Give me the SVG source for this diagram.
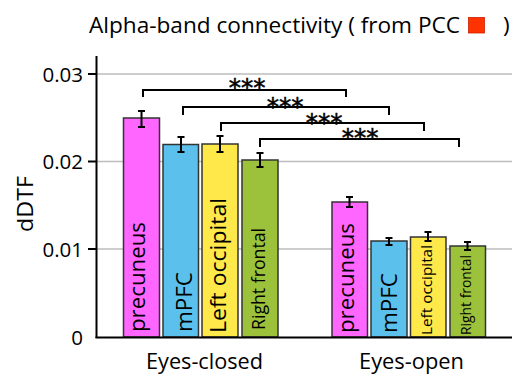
<svg xmlns="http://www.w3.org/2000/svg" width="532" height="374" viewBox="0 0 532 374">
<style>
text{font-family:"Open Sans","Liberation Sans",sans-serif;fill:#000}
.grid{stroke:#bdbdbd;stroke-width:1.5}
.axis{stroke:#000;stroke-width:2;fill:none}
.bar{stroke:#333;stroke-width:1.5}
.err{stroke:#000;stroke-width:2;fill:none}
.br{stroke:#000;stroke-width:2;fill:none}
.star{font-family:"DejaVu Sans",sans-serif;font-size:24.5px;text-anchor:middle;stroke:#000;stroke-width:0.5}
.tick{font-size:20.5px;text-anchor:end}
.lab{font-size:22px}
</style>
<rect width="532" height="374" fill="#fff"/>
<g id="title">
<text x="89" y="33" font-size="22.5" textLength="371" lengthAdjust="spacingAndGlyphs">Alpha-band connectivity ( from PCC</text>
<rect x="468.5" y="17.5" width="16" height="15.5" fill="#ff3300" stroke="#d02000" stroke-width="0.8"/>
<text x="503" y="33" font-size="22.5">)</text>
</g>
<g id="grid">
<line class="grid" x1="97" y1="74" x2="512" y2="74"/>
<line class="grid" x1="97" y1="161.5" x2="512" y2="161.5"/>
<line class="grid" x1="97" y1="249" x2="512" y2="249"/>
</g>
<g id="bars-closed">
<rect class="bar" x="123.5" y="118" width="36" height="219" fill="#ff66ff"/>
<rect class="bar" x="163" y="144.5" width="35.5" height="192.5" fill="#5bc0eb"/>
<rect class="bar" x="202" y="144" width="36" height="193" fill="#ffe84a"/>
<rect class="bar" x="242" y="160" width="36" height="177" fill="#9cc23c"/>
</g>
<g id="bars-open">
<rect class="bar" x="332" y="202" width="35.5" height="135" fill="#ff66ff"/>
<rect class="bar" x="371" y="241" width="36" height="96" fill="#5bc0eb"/>
<rect class="bar" x="410.5" y="237" width="35.5" height="100" fill="#ffe84a"/>
<rect class="bar" x="450" y="246" width="35.5" height="91" fill="#9cc23c"/>
</g>
<g id="axes">
<line class="axis" x1="96.5" y1="56" x2="96.5" y2="338"/>
<line class="axis" x1="95.5" y1="337.5" x2="512" y2="337.5"/>
<line class="axis" x1="88" y1="74" x2="97" y2="74"/>
<line class="axis" x1="88" y1="161.5" x2="97" y2="161.5"/>
<line class="axis" x1="88" y1="249" x2="97" y2="249"/>
<text class="tick" x="83" y="81.5">0.03</text>
<text class="tick" x="83" y="169">0.02</text>
<text class="tick" x="83" y="256.5">0.01</text>
<text class="tick" x="83" y="345">0</text>
<text x="33" y="232" font-size="21.5" transform="rotate(-90 33 232)" textLength="56" lengthAdjust="spacingAndGlyphs">dDTF</text>
</g>
<g id="errorbars">
<path class="err" d="M141.5,111V127M138,111H145M138,127H145"/>
<path class="err" d="M181,137V152M177.5,137H184.5M177.5,152H184.5"/>
<path class="err" d="M220,136V152M216.5,136H223.5M216.5,152H223.5"/>
<path class="err" d="M260,153V167M256.5,153H263.5M256.5,167H263.5"/>
<path class="err" d="M349.5,197V207M346,197H353M346,207H353"/>
<path class="err" d="M389,238V245M385.5,238H392.5M385.5,245H392.5"/>
<path class="err" d="M428,232V241M424.5,232H431.5M424.5,241H431.5"/>
<path class="err" d="M467.5,242V250M464,242H471M464,250H471"/>
</g>
<g id="connectors">
<path class="br" d="M143,97V90H346V97"/>
<path class="br" d="M183,115V107H389V115"/>
<path class="br" d="M221,131V123H424V131"/>
<path class="br" d="M260,147V139H459V147"/>
<text class="star" x="247" y="96">***</text>
<text class="star" x="285" y="114.5">***</text>
<text class="star" x="324" y="131">***</text>
<text class="star" x="360" y="146">***</text>
</g>
<g id="labels-closed">
<text class="lab" x="145" y="332" transform="rotate(-90 145 332)" textLength="110" lengthAdjust="spacingAndGlyphs">precuneus</text>
<text class="lab" x="192" y="332" transform="rotate(-90 192 332)" textLength="60" lengthAdjust="spacingAndGlyphs">mPFC</text>
<text class="lab" x="226" y="333" transform="rotate(-90 226 333)" textLength="135" lengthAdjust="spacingAndGlyphs">Left occipital</text>
<text x="264.5" y="330" font-size="17.5" transform="rotate(-90 264.5 330)" textLength="102" lengthAdjust="spacingAndGlyphs">Right frontal</text>
</g>
<g id="labels-open">
<text class="lab" x="354" y="333" transform="rotate(-90 354 333)" textLength="110" lengthAdjust="spacingAndGlyphs">precuneus</text>
<text class="lab" x="397" y="333" transform="rotate(-90 397 333)" textLength="60" lengthAdjust="spacingAndGlyphs">mPFC</text>
<text x="432" y="335" font-size="15.3" transform="rotate(-90 432 335)" textLength="90" lengthAdjust="spacingAndGlyphs">Left occipital</text>
<text x="471" y="335" font-size="14" transform="rotate(-90 471 335)" textLength="80" lengthAdjust="spacingAndGlyphs">Right frontal</text>
</g>
<g id="groups">
<text x="146" y="369" font-size="21.5" textLength="117" lengthAdjust="spacingAndGlyphs">Eyes-closed</text>
<text x="359" y="369" font-size="21.5" textLength="105" lengthAdjust="spacingAndGlyphs">Eyes-open</text>
</g>
</svg>
